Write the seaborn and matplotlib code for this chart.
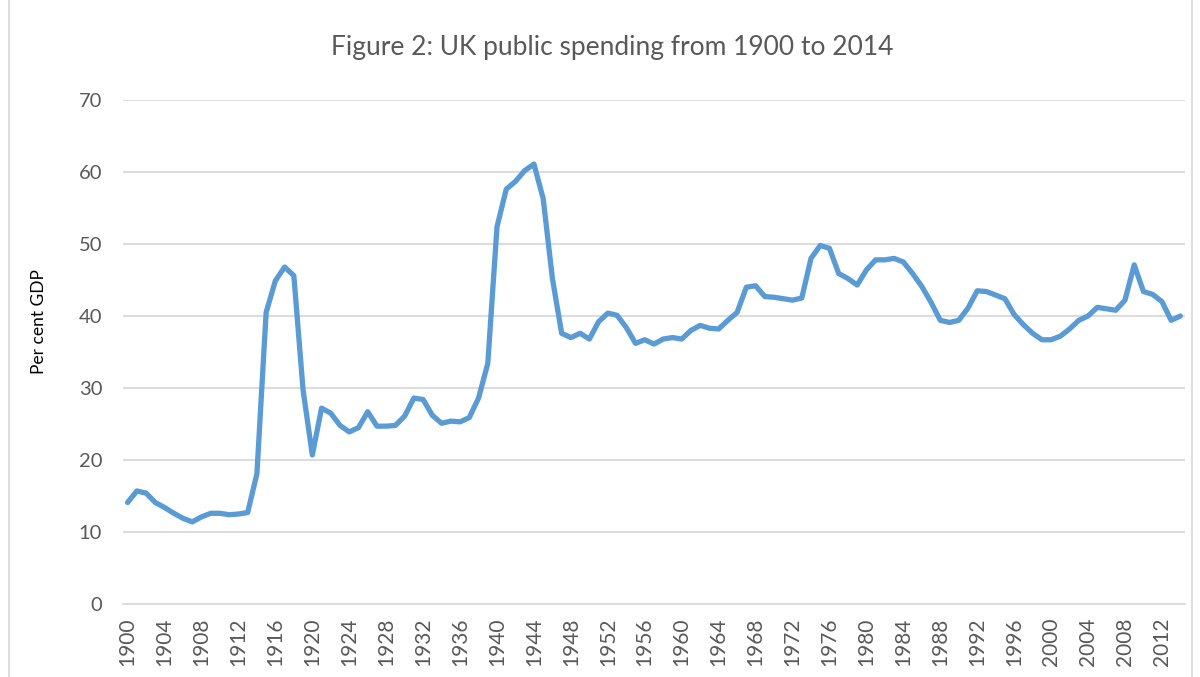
import numpy as np
import pandas as pd
import seaborn as sns
import matplotlib.pyplot as plt
from matplotlib.patches import Rectangle

# 1900 - 2014, public spending as per cent of GDP
years = list(range(1900, 2015))
spending = [
    14.1, 15.7, 15.4, 14.1, 13.4, 12.6, 11.9, 11.4, 12.1, 12.6,  # 1900s
    12.6, 12.4, 12.5, 12.7, 18.1, 40.5, 44.9, 46.8, 45.6, 29.7,  # 1910s
    20.7, 27.2, 26.5, 24.8, 23.9, 24.5, 26.7, 24.7, 24.7, 24.8,  # 1920s
    26.1, 28.6, 28.4, 26.2, 25.1, 25.4, 25.3, 25.9, 28.6, 33.4,  # 1930s
    52.4, 57.6, 58.7, 60.2, 61.1, 56.3, 45.2, 37.6, 37.0, 37.6,  # 1940s
    36.8, 39.2, 40.4, 40.1, 38.4, 36.2, 36.7, 36.1, 36.8, 37.0,  # 1950s
    36.8, 38.0, 38.7, 38.3, 38.2, 39.4, 40.5, 44.0, 44.2, 42.7,  # 1960s
    42.6, 42.4, 42.2, 42.5, 48.0, 49.8, 49.4, 45.9, 45.2, 44.3,  # 1970s
    46.4, 47.8, 47.8, 48.0, 47.5, 45.9, 44.1, 41.9, 39.4, 39.1,  # 1980s
    39.4, 41.1, 43.5, 43.4, 42.9, 42.4, 40.2, 38.8, 37.6, 36.7,  # 1990s
    36.7, 37.2, 38.2, 39.4, 40.0, 41.2, 41.0, 40.8, 42.2, 47.1,  # 2000s
    43.4, 43.0, 42.0, 39.4, 40.0,                                # 2010s
]
tick_years = list(range(1900, 2013, 4))
y_ticks = [0, 10, 20, 30, 40, 50, 60, 70]

df = pd.DataFrame({"year": years, "spending": spending})

sns.set_style("white")
plt.rcParams["font.family"] = ["Lato", "DejaVu Sans"]

fig = plt.figure(figsize=(12, 6.77), dpi=100)
ax = fig.add_axes([123 / 1200, 1 - 604 / 677, (1185 - 123) / 1200, (604 - 100) / 677])

sns.lineplot(data=df, x="year", y="spending", ax=ax, color="#5B9BD5",
             linewidth=3.8, solid_joinstyle="round", solid_capstyle="round", zorder=3)

ax.set_xlim(1899.5, 2014.5)
ax.set_ylim(0, 70)
ax.set_yticks(y_ticks)
ax.set_xticks(tick_years)
ax.set_xticklabels([str(y) for y in tick_years], rotation=90, fontsize=15, color="#595959")
ax.set_yticklabels([str(v) for v in y_ticks], fontsize=14.5, color="#595959")
ax.tick_params(axis="both", length=0)
ax.tick_params(axis="x", pad=10)
ax.tick_params(axis="y", pad=15)

ax.grid(axis="y", color="#D9D9D9", linewidth=1.3, zorder=0)
ax.grid(axis="x", visible=False)
for side in ["top", "right", "left"]:
    ax.spines[side].set_visible(False)
ax.spines["bottom"].set_color("#D9D9D9")
ax.spines["bottom"].set_linewidth(1.3)

ax.set_xlabel("")
ax.set_ylabel("Per cent GDP", fontsize=12.5, color="black")
ax.yaxis.set_label_coords((47 - 123) / 1062, (604 - 322) / 504)

fig.text(612 / 1200, 1 - 47 / 677, "Figure 2: UK public spending from 1900 to 2014",
         ha="center", va="center", fontsize=19, color="#595959")

# outer chart frame
fig.patches.append(Rectangle((9 / 1200, -0.01), 1183 / 1200, 1.02, transform=fig.transFigure,
                             fill=False, edgecolor="#D9D9D9", linewidth=1.2))

fig.savefig("out.png", dpi=100)
